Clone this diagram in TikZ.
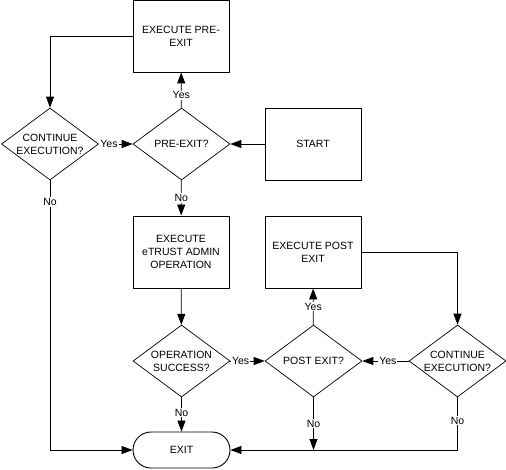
\documentclass[tikz,border=0pt]{standalone}
\usepackage{fontspec}
\setmainfont{Liberation Sans}
\usetikzlibrary{shapes.geometric,arrows.meta}

\begin{document}
\begin{tikzpicture}[x=1pt,y=-1pt,
	font=\fontsize{10.5}{13}\selectfont,
	proc/.style={draw,line width=0.9pt,minimum width=96pt,minimum height=72pt,align=center,inner sep=2pt},
	test/.style={draw,diamond,line width=0.7pt,minimum width=97pt,minimum height=72pt,inner sep=-6pt,align=center},
	flow/.style={line width=0.8pt,-{Triangle[length=11pt,width=8pt]}},
	lbl/.style={fill=white,inner sep=1pt}]
	\useasboundingbox (0,0) rectangle (506,469);
	% boxes
	\node[proc] (preexec) at (181,36){EXECUTE PRE-\\EXIT};
	\node[proc] (start) at (313,144){START};
	\node[proc] (etrust) at (181,252){EXECUTE\\eTRUST ADMIN\\OPERATION};
	\node[proc] (postexec) at (313,252){EXECUTE POST\\EXIT};
	\node[draw,line width=0.9pt,rounded corners=18pt,minimum width=97pt,minimum height=36pt] (exit) at (181.5,450){EXIT};
	% decisions
	\node[test] (cont1) at (50,144){CONTINUE\\EXECUTION?};
	\node[test] (preexit) at (181.5,144){PRE-EXIT?};
	\node[test] (opsucc) at (181.5,361){OPERATION\\SUCCESS?};
	\node[test] (postexit) at (313.5,361){POST EXIT?};
	\node[test] (cont2) at (457.5,361){CONTINUE\\EXECUTION?};
	\coordinate (join) at (postexit |- exit);
	% connectors
	\draw[flow] (start) -- (preexit);
	\draw[flow] (preexit) -- node[lbl,pos=0.35]{Yes} (preexec);
	\draw[flow] (preexec.west) -| (cont1.north);
	\draw[flow] (cont1) -- node[lbl,pos=0.3]{Yes} (preexit);
	\draw[flow] (cont1.south) |- node[lbl,pos=0.04]{No} (exit.west);
	\draw[flow] (preexit) -- node[lbl,pos=0.5]{No} (etrust);
	\draw[flow] (etrust) -- (opsucc);
	\draw[flow] (opsucc) -- node[lbl,pos=0.3]{Yes} (postexit);
	\draw[flow] (opsucc) -- node[lbl,pos=0.45]{No} (exit);
	\draw[flow] (postexit) -- node[lbl,pos=0.5]{Yes} (postexec);
	\draw[flow] (postexec.east) -| (cont2.north);
	\draw[flow] (cont2) -- node[lbl,pos=0.45]{Yes} (postexit);
	\draw[flow] (cont2.south) |- node[lbl,pos=0.22]{No} (exit.east);
	\draw[flow] (postexit) -- node[lbl,pos=0.5]{No} (join);
\end{tikzpicture}
\end{document}
